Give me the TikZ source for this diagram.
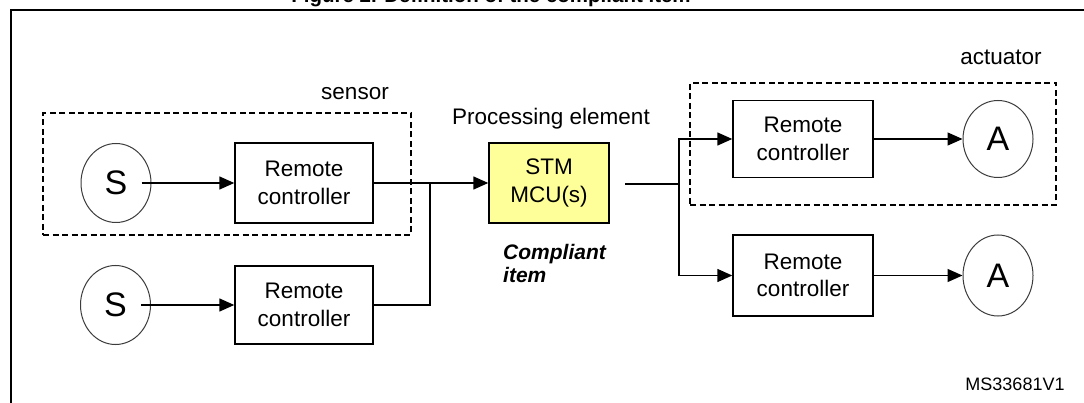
\documentclass[tikz,border=0pt]{standalone}
\usepackage{fontspec}
\setmainfont{Liberation Sans}
\usetikzlibrary{shapes.geometric,arrows.meta}
\definecolor{mcuyellow}{RGB}{255,255,153}
\definecolor{ringgray}{RGB}{60,60,60}
\tikzset{
  txt/.style={font=\fontsize{22.5}{27.5}\selectfont, align=center, inner sep=0pt},
  rcbox/.style={draw=black, line width=1.4pt, minimum width=138pt, minimum height=80pt, txt},
  mcubox/.style={rcbox, fill=mcuyellow, minimum width=120pt},
  ring/.style={ellipse, draw=ringgray, line width=1pt, minimum width=70pt, minimum height=79pt, inner sep=0pt, font=\fontsize{34}{34}\selectfont},
  group/.style={draw=black, line width=1.3pt, dash pattern=on 6pt off 3.5pt, inner sep=0pt},
  conn/.style={draw=black, line width=1.4pt},
  arr/.style={conn, -{Triangle[length=15pt,width=13pt]}},
}
\begin{document}
\begin{tikzpicture}[x=1pt,y=-1pt]
\useasboundingbox (0,0) rectangle (1084,403);
\clip (0,0) rectangle (1084,403);
\fill[white] (0,0) rectangle (1084,403);
% title (cut off at top, as in the reference) and frame
\node[anchor=base, inner sep=0pt, font=\fontsize{20.5}{20.5}\selectfont\bfseries] (title) at (491,2.5) {Figure 2. Definition of the compliant item};
\draw[line width=2pt] (10.5,420) -- (10.5,10.5) -- (1100,10.5);
% group boxes
\node[group, minimum width=368pt, minimum height=122pt] (sensorbox) at (227,174) {};
\node[group, minimum width=366pt, minimum height=122pt] (actbox) at (873,144) {};
\node[txt] (sensorlbl) at (355,94) {sensor};
\node[txt] (actlbl) at (1001,57) {actuator};
% sensors
\node[ring] (S1) at (116,183) {S};
\node[ring] (S2) at (115.5,305) {S};
\node[rcbox] (RC1) at (304,183) {Remote\\controller};
\node[rcbox, minimum height=78pt] (RC2) at (304,305) {Remote\\controller};
% processing element
\node[mcubox] (MCU) at (549,183) {STM\\MCU(s)};
\node[txt] (pelbl) at (551,119) {Processing element};
\node[anchor=west, align=left, inner sep=0pt, font=\fontsize{21}{23.5}\selectfont\bfseries\itshape] (comp) at (503,263.5) {Compliant\\item};
% actuators
\node[rcbox, minimum width=140pt, minimum height=77pt] (RC3) at (803,139) {Remote\\controller};
\node[rcbox, minimum width=140pt, minimum height=81pt] (RC4) at (803,275.5) {Remote\\controller};
\node[ring, minimum height=77pt] (A1) at (998,139) {A};
\node[ring, minimum height=81pt] (A2) at (998,275.5) {A};
\node[inner sep=0pt, font=\fontsize{18}{18}\selectfont] (ms) at (1015,384) {MS33681V1};
% junctions
\coordinate (j1) at (430,183);
\coordinate (j2) at (679,184);
\coordinate (mout) at (625,184);
% connectors
\draw[arr] ([xshift=-10pt]S1.east) -- (RC1.west);
\draw[arr] ([xshift=-10pt]S2.east) -- (RC2.west);
\draw[arr] (RC1.east) -- (MCU.west);
\draw[conn] (RC2.east) -| (j1);
\draw[conn] (mout) -- (j2);
\draw[arr] (j2) |- (RC3.west);
\draw[arr] (j2) |- (RC4.west);
\draw[arr] (RC3.east) -- (A1.west);
\draw[arr] (RC4.east) -- (A2.west);
\end{tikzpicture}
\end{document}
